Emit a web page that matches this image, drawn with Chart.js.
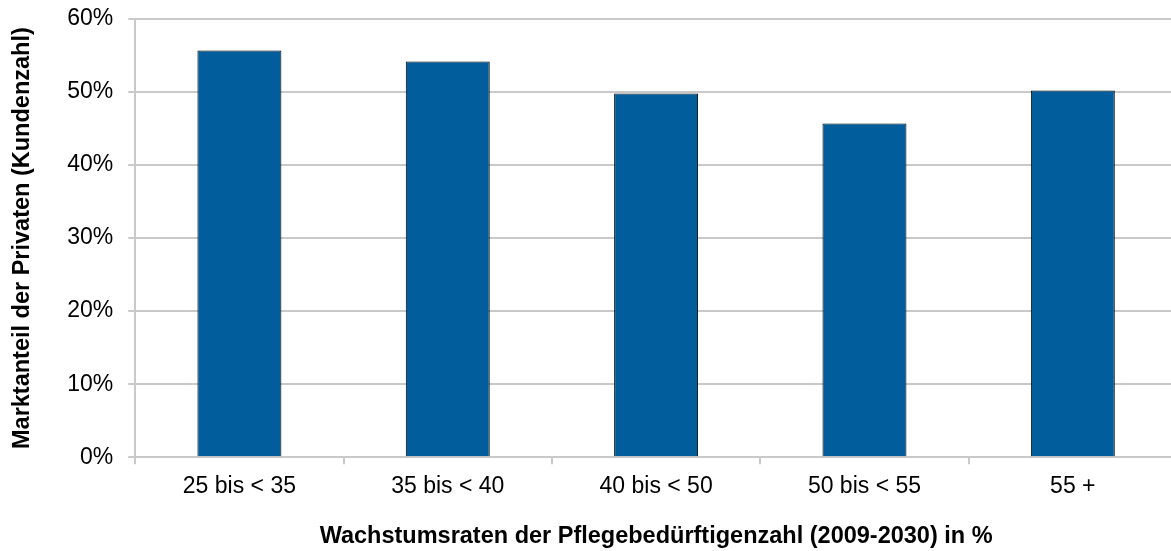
<!DOCTYPE html>
<html lang="de">
<head>
<meta charset="utf-8">
<script src="https://cdn.jsdelivr.net/npm/chart.js@4/dist/chart.umd.min.js"></script>
<style>
  html, body { margin: 0; padding: 0; background: #fff; overflow: hidden; }
  #wrap { width: 1180px; height: 551px; }
</style>
</head>
<body>
<div id="wrap"><canvas id="chart-markt" width="1180" height="551"></canvas></div>
<script>
// Wachstumsklassen der Pflegebedürftigenzahl
const kategorien = ['25 bis < 35', '35 bis < 40', '40 bis < 50', '50 bis < 55', '55 +'];
// Marktanteil der Privaten in %
const marktanteil = [55.7, 54.2, 49.8, 45.7, 50.2];
const yMin = 0, yMax = 60, yStep = 10;

const COR = {
    balken: '#015d9c',
    rand: '#000000',
    grid: '#c9c9c9',
    text: '#000000',
};
const FONT = 'Liberation Sans, Arial, sans-serif';

new Chart(document.getElementById('chart-markt'), {
    type: 'bar',
    data: {
        labels: kategorien,
        datasets: [{
            data: marktanteil,
            backgroundColor: COR.balken,
            borderColor: COR.rand,
            borderWidth: 1,
            barPercentage: 0.403,
            categoryPercentage: 1,
        }]
    },
    options: {
        responsive: false,
        animation: false,
        layout: { padding: { top: 0, left: 8, right: 3, bottom: 0 } },
        plugins: { legend: { display: false }, tooltip: { enabled: false } },
        scales: {
            x: {
                grid: { offset: true, drawOnChartArea: false, tickLength: 7, color: COR.grid, lineWidth: 2 },
                border: { display: true, color: COR.grid, width: 2 },
                ticks: { color: COR.text, font: { family: FONT, size: 23 }, padding: 9, maxRotation: 0 },
                title: {
                    display: true,
                    text: 'Wachstumsraten der Pflegebedürftigenzahl (2009-2030) in %',
                    color: COR.text,
                    font: { family: FONT, size: 23.5, weight: 'bold' },
                    padding: { top: 13, bottom: 0 },
                }
            },
            y: {
                min: yMin, max: yMax,
                grid: { color: COR.grid, lineWidth: 2, tickLength: 7 },
                border: { display: true, color: COR.grid, width: 2 },
                ticks: {
                    stepSize: yStep,
                    color: COR.text,
                    // kleine lineHeight: nur damit oben nicht so viel Rand reserviert wird
                    font: { family: FONT, size: 23, lineHeight: 0.35 },
                    padding: 15,
                    callback: v => v + '%'
                },
                title: {
                    display: true,
                    text: 'Marktanteil der Privaten (Kundenzahl)',
                    color: COR.text,
                    font: { family: FONT, size: 23.5, weight: 'bold' },
                    padding: { top: 0, bottom: 16 },
                }
            }
        }
    }
});
</script>
</body>
</html>
